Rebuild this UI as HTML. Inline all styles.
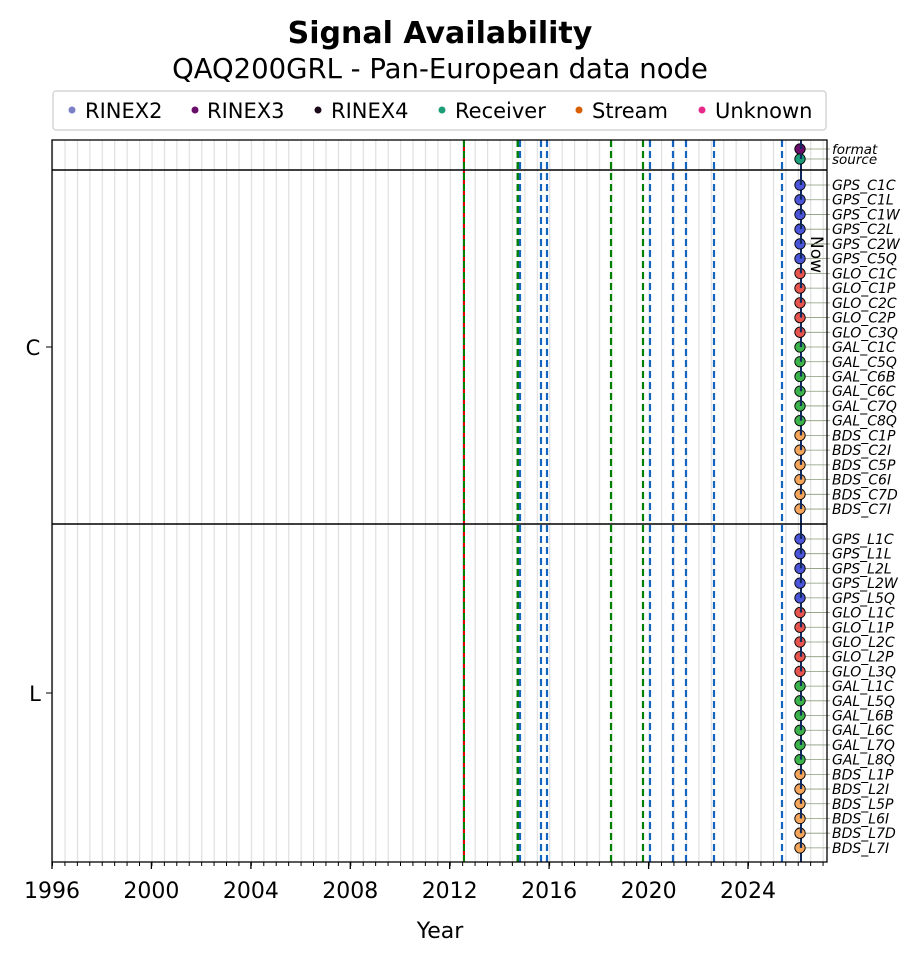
<!DOCTYPE html>
<html><head><meta charset="utf-8"><style>body{margin:0;background:#fff}svg{display:block;font-family:"DejaVu Sans","Liberation Sans",sans-serif}</style></head><body>
<svg width="918" height="962" xmlns="http://www.w3.org/2000/svg">
<defs>
<pattern id="g" x="52" y="0" width="12.4286" height="10" patternUnits="userSpaceOnUse"><rect x="0" y="0" width="1.2" height="10" fill="#e0e0e0"/></pattern>
<pattern id="mt" x="52" y="0" width="12.4286" height="10" patternUnits="userSpaceOnUse"><rect x="0" y="0" width="1" height="10" fill="#000"/></pattern>
</defs>
<text x="440" y="43" text-anchor="middle" font-size="30" font-weight="bold">Signal Availability</text>
<text x="440" y="78" text-anchor="middle" font-size="27.5">QAQ200GRL - Pan-European data node</text>
<rect x="53" y="91" width="773" height="39" rx="3" fill="#fff" stroke="#ccc" stroke-width="1.2"/>
<g font-size="21">
<circle cx="72" cy="110" r="3.5" fill="#7b7fc4"/><text x="85" y="118">RINEX2</text>
<circle cx="195" cy="110" r="3.5" fill="#6a0d6a"/><text x="207" y="118">RINEX3</text>
<circle cx="318" cy="110" r="3.5" fill="#1a0a1a"/><text x="331" y="118">RINEX4</text>
<circle cx="442" cy="110" r="3.5" fill="#1b9e77"/><text x="455" y="118">Receiver</text>
<circle cx="579" cy="110" r="3.5" fill="#d95f02"/><text x="592" y="118">Stream</text>
<circle cx="702" cy="110" r="3.5" fill="#e7298a"/><text x="715" y="118">Unknown</text>
</g>
<rect x="52" y="140" width="775" height="722" fill="url(#g)"/>
<g stroke-width="2.2" stroke-dasharray="7,4">
<line x1="464" y1="140" x2="464" y2="862" stroke="#d00" stroke-dasharray="none" stroke-width="2"/>
<line x1="464" y1="140" x2="464" y2="862" stroke="#008000" stroke-width="2"/>
<line x1="518" y1="140" x2="518" y2="862" stroke="#008000" stroke-width="3"/>
<line x1="520" y1="140" x2="520" y2="862" stroke="#1565c0"/>
<line x1="541" y1="140" x2="541" y2="862" stroke="#1565c0"/>
<line x1="547" y1="140" x2="547" y2="862" stroke="#1565c0"/>
<line x1="611" y1="140" x2="611" y2="862" stroke="#008000"/>
<line x1="643" y1="140" x2="643" y2="862" stroke="#008000"/>
<line x1="650" y1="140" x2="650" y2="862" stroke="#1565c0"/>
<line x1="673" y1="140" x2="673" y2="862" stroke="#1565c0"/>
<line x1="686" y1="140" x2="686" y2="862" stroke="#1565c0"/>
<line x1="714" y1="140" x2="714" y2="862" stroke="#1565c0"/>
<line x1="782" y1="140" x2="782" y2="862" stroke="#1565c0"/>
</g>
<line x1="801" y1="140" x2="801" y2="862" stroke="#102a60" stroke-width="2"/>
<text transform="translate(811,236) rotate(90)" font-size="17">Now</text>
<g id="rows" font-style="italic"></g>
<line x1="52" y1="170" x2="827" y2="170" stroke="#000" stroke-width="1.5"/>
<line x1="52" y1="524" x2="827" y2="524" stroke="#000" stroke-width="1.5"/>
<rect x="52" y="140" width="775" height="722" fill="none" stroke="#000" stroke-width="1.3"/>
<rect x="52" y="862" width="775" height="4" fill="url(#mt)"/>
<g stroke="#000" stroke-width="1.3">
<line x1="52" y1="862" x2="52" y2="869"/><line x1="151.4" y1="862" x2="151.4" y2="869"/><line x1="250.9" y1="862" x2="250.9" y2="869"/><line x1="350.3" y1="862" x2="350.3" y2="869"/><line x1="449.7" y1="862" x2="449.7" y2="869"/><line x1="549.1" y1="862" x2="549.1" y2="869"/><line x1="648.6" y1="862" x2="648.6" y2="869"/><line x1="748" y1="862" x2="748" y2="869"/>
</g>
<g font-size="22" text-anchor="middle">
<text x="52" y="898">1996</text><text x="151.4" y="898">2000</text><text x="250.9" y="898">2004</text><text x="350.3" y="898">2008</text><text x="449.7" y="898">2012</text><text x="549.1" y="898">2016</text><text x="648.6" y="898">2020</text><text x="748" y="898">2024</text>
</g>
<text x="440" y="938" text-anchor="middle" font-size="22">Year</text>
<text x="33" y="355" text-anchor="middle" font-size="21">C</text>
<text x="35" y="701" text-anchor="middle" font-size="21">L</text>
<g stroke="#000" stroke-width="1"><line x1="46" y1="347" x2="52" y2="347"/><line x1="46" y1="693" x2="52" y2="693"/></g>
</svg>
<script>
var g=document.getElementById('rows'),h='';
function row(y,fill,label,fs){h+='<line x1="801" y1="'+y+'" x2="830" y2="'+y+'" stroke="#8a9a7a" stroke-width="0.8"/>';
h+='<circle cx="800" cy="'+y+'" r="5.2" fill="'+fill+'" stroke="#000" stroke-width="0.9"/>';
h+='<line x1="801" y1="'+(y-5.5)+'" x2="801" y2="'+y+'" stroke="#102a60" stroke-width="2.2"/>';
h+='<text x="832" y="'+(y+5)+'" font-size="'+(fs||14)+'">'+label+'</text>';}
row(149,'#6a0d6a','format',13.5);row(159,'#1b9e77','source',13.5);
var C=['GPS_C1C','GPS_C1L','GPS_C1W','GPS_C2L','GPS_C2W','GPS_C5Q','GLO_C1C','GLO_C1P','GLO_C2C','GLO_C2P','GLO_C3Q','GAL_C1C','GAL_C5Q','GAL_C6B','GAL_C6C','GAL_C7Q','GAL_C8Q','BDS_C1P','BDS_C2I','BDS_C5P','BDS_C6I','BDS_C7D','BDS_C7I'];
var L=['GPS_L1C','GPS_L1L','GPS_L2L','GPS_L2W','GPS_L5Q','GLO_L1C','GLO_L1P','GLO_L2C','GLO_L2P','GLO_L3Q','GAL_L1C','GAL_L5Q','GAL_L6B','GAL_L6C','GAL_L7Q','GAL_L8Q','BDS_L1P','BDS_L2I','BDS_L5P','BDS_L6I','BDS_L7D','BDS_L7I'];
var col={GPS:'#4a55d8',GLO:'#e8554e',GAL:'#3cb44b',BDS:'#f5a65b'};
C.forEach(function(s,i){row(185+i*14.73,col[s.slice(0,3)],s);});
L.forEach(function(s,i){row(539+i*14.71,col[s.slice(0,3)],s);});
g.innerHTML=h;
</script>
</body></html>
